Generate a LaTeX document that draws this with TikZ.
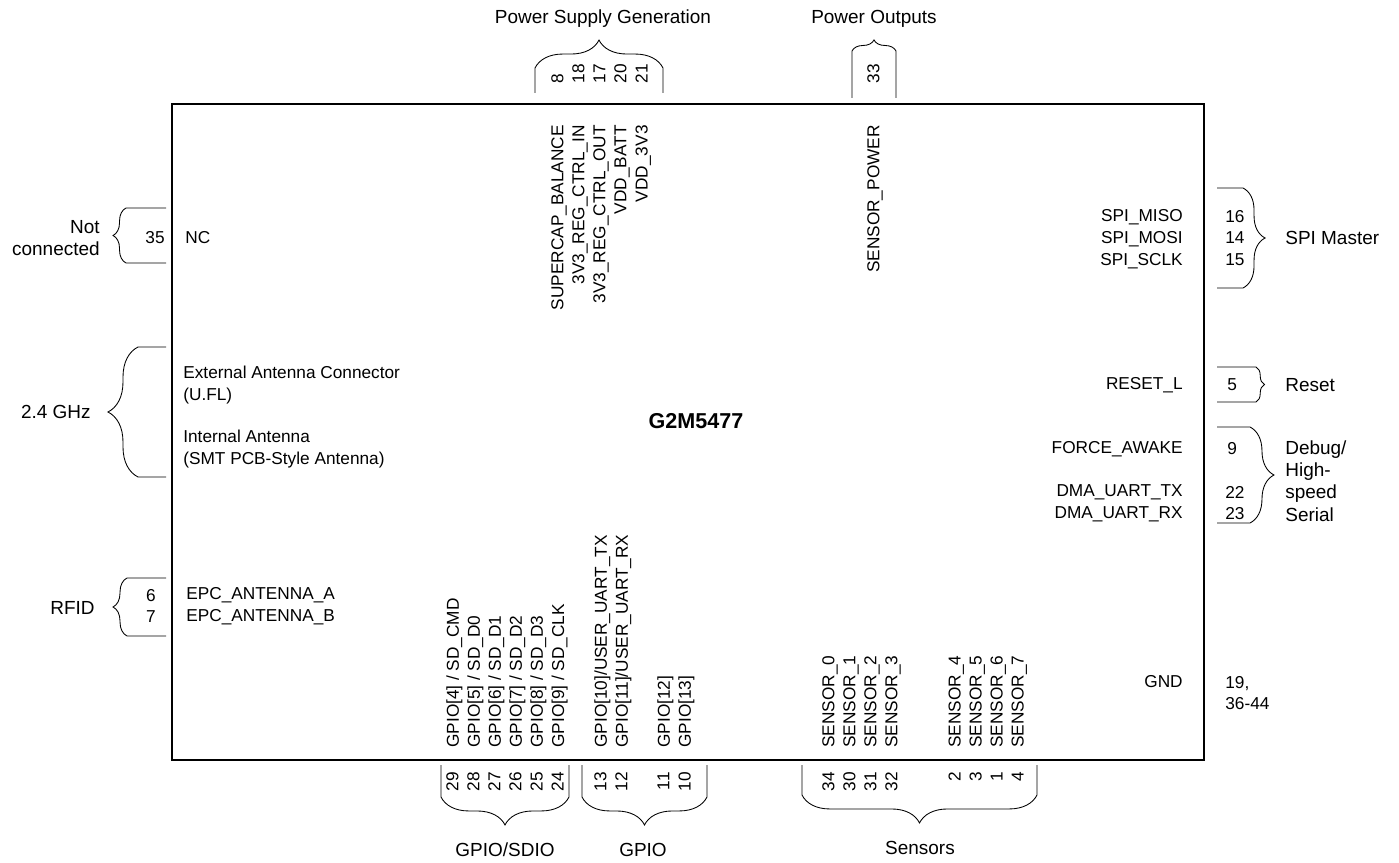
\documentclass[tikz,border=0pt]{standalone}
\usepackage{fontspec}
\setmainfont{Liberation Sans}
\usetikzlibrary{decorations.pathreplacing}
\tikzset{
  pinname/.style={
    rotate=90, inner sep=0pt,
    font=\fontsize{10}{12.2}\selectfont
  },
  sigtext/.style={
    inner sep=0pt, font=\fontsize{10}{12.6}\selectfont
  },
  grouplabel/.style={
    inner sep=0pt, font=\fontsize{11}{12.9}\selectfont
  },
  grpbrace/.style={
    decoration={brace, amplitude=#1}
  },
  grpline/.style={line width=0.5pt},
}

\begin{document}
\begin{tikzpicture}[x=0.58pt, y=-0.58pt]
  \useasboundingbox (0,0) rectangle (1399,863);

  % Module outline
  \draw[line width=0.8pt] (172,104) rectangle (1204,760);
  \node[font=\fontsize{12.5}{15}\selectfont\bfseries] (title) at (696,421) {G2M5477};

  % Power supply generation
  \node[pinname, align=left, anchor=north west] (psgpins) at (551,83.5) {8\\18\\17\\20\\21};
  \node[pinname, align=right, anchor=north east] (psgsigs) at (551,125)
    {SUPERCAP\_BALANCE\\3V3\_REG\_CTRL\_IN\\3V3\_REG\_CTRL\_OUT\\VDD\_BATT\\VDD\_3V3};
  \draw[grpline] (535,93) -- (535,68) decorate[grpbrace=16.2pt] {-- (663,68)} -- (663,93);
  \node[grouplabel] (psglbl) at (603,19) {Power Supply Generation};

  % Power outputs
  \node[pinname, align=left, anchor=north west] (popin) at (867,83.5) {33};
  \node[pinname, align=right, anchor=north east] (posig) at (867,125) {SENSOR\_POWER};
  \draw[grpline] (852,98) -- (852,51) decorate[grpbrace=6.4pt] {-- (896,51)} -- (896,98);
  \node[grouplabel] (polbl) at (874,19) {Power Outputs};

  % Not connected
  \node[sigtext, anchor=east] (ncpin) at (165,238) {35};
  \node[sigtext, anchor=west] (ncsig) at (185,238) {NC};
  \draw[grpline] (166,263) -- (126,263) decorate[grpbrace=7.5pt] {-- (126,208)} -- (166,208);
  \node[grouplabel, align=right, anchor=east] (nclbl) at (100,238) {Not\\connected};

  % 2.4 GHz antennas
  \node[sigtext, align=left, anchor=west] (extant) at (183,385) {External Antenna Connector\\(U.FL)};
  \node[sigtext, align=left, anchor=west] (intant) at (183,449) {Internal Antenna\\(SMT PCB-Style Antenna)};
  \draw[grpline] (166,477) -- (138,477) decorate[grpbrace=17.4pt] {-- (138,347)} -- (166,347);
  \node[grouplabel, anchor=east] (rflbl) at (91,412) {2.4 GHz};

  % RFID
  \node[sigtext, align=right, anchor=east] (epcpins) at (156,606) {6\\7};
  \node[sigtext, align=left, anchor=west] (epcsigs) at (186,606) {EPC\_ANTENNA\_A\\EPC\_ANTENNA\_B};
  \draw[grpline] (166,636) -- (127,636) decorate[grpbrace=8.1pt] {-- (127,578)} -- (166,578);
  \node[grouplabel, anchor=east] (rfidlbl) at (95,608) {RFID};

  % SPI master
  \node[sigtext, align=right, anchor=east] (spisigs) at (1183,239) {SPI\_MISO\\SPI\_MOSI\\SPI\_SCLK};
  \node[sigtext, align=left, anchor=west] (spipins) at (1225,238) {16\\14\\15};
  \draw[grpline] (1217,188) -- (1243,188) decorate[grpbrace=12.8pt] {-- (1243,288)} -- (1217,288);
  \node[grouplabel, anchor=west] (spilbl) at (1285,238) {SPI Master};

  % Reset
  \node[sigtext, anchor=east] (rstsig) at (1183,385) {RESET\_L};
  \node[sigtext, anchor=west] (rstpin) at (1227,385) {5};
  \draw[grpline] (1217,367) -- (1256,367) decorate[grpbrace=4.9pt] {-- (1256,402)} -- (1217,402);
  \node[grouplabel, anchor=west] (rstlbl) at (1285,385) {Reset};

  % Debug / high-speed serial
  \node[sigtext, anchor=east] (wakesig) at (1183,449) {FORCE\_AWAKE};
  \node[sigtext, anchor=west] (wakepin) at (1227,449) {9};
  \node[sigtext, align=right, anchor=east] (uartsigs) at (1183,503) {DMA\_UART\_TX\\DMA\_UART\_RX};
  \node[sigtext, align=left, anchor=west] (uartpins) at (1225,503) {22\\23};
  \draw[grpline] (1217,427) -- (1250,427) decorate[grpbrace=13.9pt] {-- (1250,523)} -- (1217,523);
  \node[grouplabel, align=left, anchor=west] (dbglbl) at (1285,481) {Debug/\\High-\\speed\\Serial};

  % Ground
  \node[sigtext, anchor=east] (gndsig) at (1183,682) {GND};
  \node[sigtext, align=left, anchor=west] (gndpins) at (1225,693) {19,\\36-44};

  % GPIO/SDIO
  \node[pinname, align=left, anchor=north west] (sdiosigs) at (446,748)
    {GPIO[4] / SD\_CMD\\GPIO[5] / SD\_D0\\GPIO[6] / SD\_D1\\GPIO[7] / SD\_D2\\GPIO[8] / SD\_D3\\GPIO[9] / SD\_CLK};
  \node[pinname, align=right, anchor=north east] (sdiopins) at (446,772) {29\\28\\27\\26\\25\\24};
  \draw[grpline] (569,765) -- (569,797) decorate[grpbrace=16.2pt] {-- (441,797)} -- (441,765);
  \node[grouplabel] (sdiolbl) at (505,850) {GPIO/SDIO};

  % GPIO
  \node[pinname, align=left, anchor=north west] (gpiosigs) at (594,748)
    {GPIO[10]/USER\_UART\_TX\\GPIO[11]/USER\_UART\_RX\\\mbox{}\\GPIO[12]\\GPIO[13]};
  \node[pinname, align=right, anchor=north east] (gpiopins) at (594,772) {13\\12\\\mbox{}\\11\\10};
  \draw[grpline] (707,765) -- (707,797) decorate[grpbrace=16.2pt] {-- (582,797)} -- (582,765);
  \node[grouplabel] (gpiolbl) at (643,850) {GPIO};

  % Sensors
  \node[pinname, align=left, anchor=north west] (sensigs) at (822,748)
    {SENSOR\_0\\SENSOR\_1\\SENSOR\_2\\SENSOR\_3\\\mbox{}\\\mbox{}\\SENSOR\_4\\SENSOR\_5\\SENSOR\_6\\SENSOR\_7};
  \node[pinname, align=right, anchor=north east] (senpins) at (822,772)
    {34\\30\\31\\32\\\mbox{}\\\mbox{}\\2\\3\\1\\4};
  \draw[grpline] (1037,765) -- (1037,795) decorate[grpbrace=16.2pt] {-- (802,795)} -- (802,765);
  \node[grouplabel] (senlbl) at (920,848) {Sensors};
\end{tikzpicture}
\end{document}
